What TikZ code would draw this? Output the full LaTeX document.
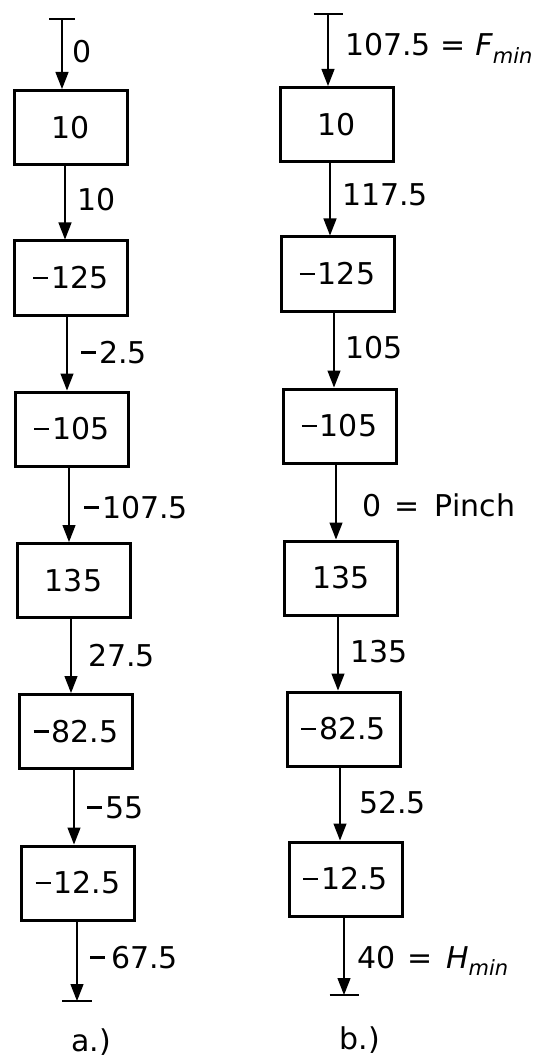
\documentclass[tikz,border=0pt]{standalone}
\usepackage{fontspec}
\setmainfont{DejaVu Sans}
\usetikzlibrary{arrows.meta}
\newcommand\mns{\rule[0.315em]{0.5em}{0.09em}\hspace{0.1em}}
\begin{document}
\begin{tikzpicture}[x=1pt,y=-1pt,
  box/.style={draw, line width=3pt, minimum width=113pt, minimum height=74pt, inner sep=0pt, font=\fontsize{30}{33}\selectfont},
  flow/.style={line width=1.3pt, -{Triangle[length=17pt,width=13pt]}},
  bar/.style={line width=1.6pt},
  lbl/.style={anchor=base west, inner sep=0pt, font=\fontsize{30}{33}\selectfont},
  captext/.style={anchor=base, inner sep=0pt, font=\fontsize{30}{33}\selectfont},
]
\useasboundingbox (0,0) rectangle (536,1059);

% left column
\node[box] (L1) at (70.5,127.5) {10};
\node[box] (L2) at (71,278) {\mns125};
\node[box] (L3) at (72,429) {\mns105};
\node[box] (L4) at (73.5,580.5) {135};
\node[box] (L5) at (76,731.5) {\mns82.5};
\node[box] (L6) at (78,883) {\mns12.5};
\coordinate (Lt) at (62,19);
\coordinate (Lb) at (77,1001);

\draw[bar] ([xshift=-13pt]Lt) -- ([xshift=13pt]Lt);
\draw[bar] ([xshift=-15pt]Lb) -- ([xshift=15pt]Lb);
\draw[flow] (Lt) -- (Lt |- L1.north);
\draw[flow] ([xshift=-5.5pt]L1.south) -- ([xshift=-5.5pt]L1.south |- L2.north);
\draw[flow] ([xshift=-4pt]L2.south) -- ([xshift=-4pt]L2.south |- L3.north);
\draw[flow] ([xshift=-3pt]L3.south) -- ([xshift=-3pt]L3.south |- L4.north);
\draw[flow] ([xshift=-2.5pt]L4.south) -- ([xshift=-2.5pt]L4.south |- L5.north);
\draw[flow] ([xshift=-2pt]L5.south) -- ([xshift=-2pt]L5.south |- L6.north);
\draw[flow] (Lb |- L6.south) -- (Lb);

\node[lbl] (la0) at (72,63) {0};
\node[lbl] (la1) at (77,211) {10};
\node[lbl] (la2) at (81,363) {\mns2.5};
\node[lbl] (la3) at (84,518) {\mns107.5};
\node[lbl] (la4) at (88,666) {27.5};
\node[lbl] (la5) at (87,818) {\mns55};
\node[lbl] (la6) at (90,968) {\mns\hspace{0.1em}67.5};
\node[captext] (capa) at (91,1051) {a.)};

% right column
\node[box] (R1) at (337,124.5) {10};
\node[box] (R2) at (337.5,274) {\mns125};
\node[box] (R3) at (339.5,426) {\mns105};
\node[box] (R4) at (341,578) {135};
\node[box] (R5) at (343.5,729) {\mns82.5};
\node[box] (R6) at (345.5,879) {\mns12.5};
\coordinate (Rt) at (328,14);
\coordinate (Rb) at (344,995);

\draw[bar] ([xshift=-14.5pt]Rt) -- ([xshift=14.5pt]Rt);
\draw[bar] ([xshift=-14.5pt]Rb) -- ([xshift=14.5pt]Rb);
\draw[flow] (Rt) -- (Rt |- R1.north);
\draw[flow] ([xshift=-7pt]R1.south) -- ([xshift=-7pt]R1.south |- R2.north);
\draw[flow] ([xshift=-3.5pt]R2.south) -- ([xshift=-3.5pt]R2.south |- R3.north);
\draw[flow] ([xshift=-3.5pt]R3.south) -- ([xshift=-3.5pt]R3.south |- R4.north);
\draw[flow] ([xshift=-3pt]R4.south) -- ([xshift=-3pt]R4.south |- R5.north);
\draw[flow] ([xshift=-3.5pt]R5.south) -- ([xshift=-3.5pt]R5.south |- R6.north);
\draw[flow] (Rb |- R6.south) -- (Rb);

\node[lbl] (lb0) at (345,56) {107.5 = \textit{F}\textsubscript{\itshape min}};
\node[lbl] (lb1) at (342,206) {117.5};
\node[lbl] (lb2) at (345,358) {105};
\node[lbl] (lb3) at (362,516) {0\hspace{0.45em}=\hspace{0.5em}Pinch};
\node[lbl] (lb4) at (350,662) {135};
\node[lbl] (lb5) at (359,813) {52.5};
\node[lbl] (lb6) at (357,968) {40\hspace{0.4em}=\hspace{0.45em}\textit{H}\textsubscript{\itshape min}};
\node[captext] (capb) at (360,1049) {b.)};
\end{tikzpicture}
\end{document}
